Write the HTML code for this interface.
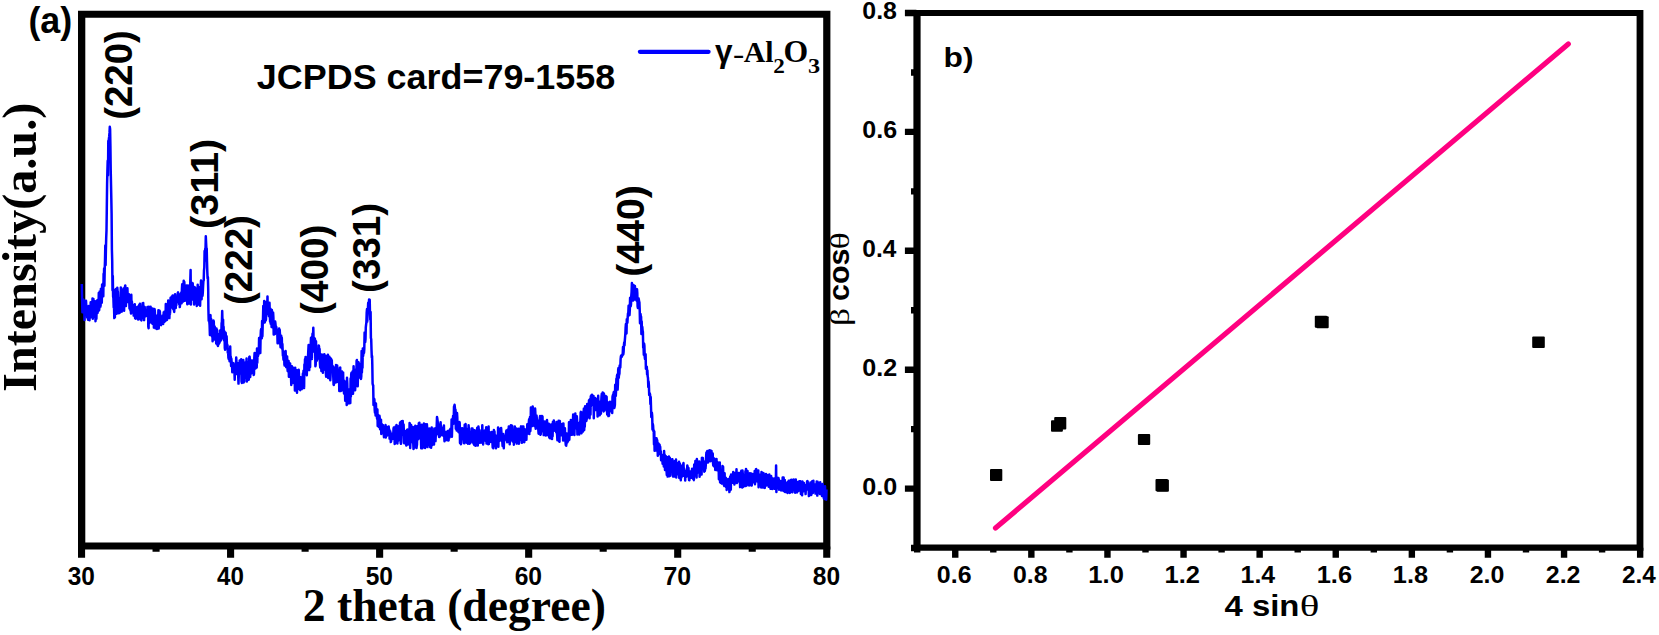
<!DOCTYPE html>
<html><head><meta charset="utf-8"><title>XRD and Williamson-Hall plot</title>
<style>html,body{margin:0;padding:0;background:#fff;}svg{display:block;}</style></head>
<body><svg width="1659" height="635" viewBox="0 0 1659 635">
<rect width="1659" height="635" fill="#fff"/>
<path d="M78.0 10.8H830.4V17.700000000000003H78.0Z M78.0 542.5H830.4V549.6H78.0Z M78.0 10.8H85.3V549.6H78.0Z M823.1999999999999 10.8H830.4V549.6H823.1999999999999Z" fill="#000"/>
<path d="M913.4 10.1H1643.4V16.0H913.4Z M913.4 544.6H1643.4V550.7H913.4Z M913.4 10.1H920.6V550.7H913.4Z M1636.6000000000001 10.1H1643.4V550.7H1636.6000000000001Z" fill="#000"/>
<path d="M81.55 546.60V557.7 M156.07 546.60V551.8 M230.59 546.60V557.7 M305.11 546.60V551.8 M379.63 546.60V557.7 M454.15 546.60V551.8 M528.67 546.60V557.7 M603.19 546.60V551.8 M677.71 546.60V557.7 M752.23 546.60V551.8 M826.75 546.60V557.7" stroke="#000" stroke-width="7.1" fill="none"/>
<path d="M917.20 547.70V552.4 M955.25 547.70V557.8 M993.30 547.70V552.4 M1031.35 547.70V557.8 M1069.40 547.70V552.4 M1107.45 547.70V557.8 M1145.50 547.70V552.4 M1183.55 547.70V557.8 M1221.60 547.70V552.4 M1259.65 547.70V557.8 M1297.70 547.70V552.4 M1335.75 547.70V557.8 M1373.80 547.70V552.4 M1411.85 547.70V557.8 M1449.90 547.70V552.4 M1487.95 547.70V557.8 M1526.00 547.70V552.4 M1564.05 547.70V557.8 M1602.10 547.70V552.4 M1640.15 547.70V557.8 M916.40 548.05H911.0 M916.40 488.60H904.9 M916.40 429.15H911.0 M916.40 369.70H904.9 M916.40 310.25H911.0 M916.40 250.80H904.9 M916.40 191.35H911.0 M916.40 131.90H904.9 M916.40 72.45H911.0 M916.40 13.00H904.9" stroke="#000" stroke-width="6.4" fill="none"/>
<polyline points="81.8,284.0 82.1,299.8 82.4,312.3 82.7,305.4 83.0,306.0 83.3,308.0 83.6,299.8 83.9,308.3 84.2,303.6 84.5,320.0 84.8,311.1 85.1,306.8 85.4,306.7 85.7,303.5 86.0,300.7 86.3,305.7 86.6,313.2 86.9,307.8 87.2,317.4 87.5,307.5 87.8,309.5 88.1,319.7 88.4,314.0 88.7,305.9 89.0,309.4 89.2,314.2 89.5,320.2 89.8,306.9 90.1,307.0 90.4,317.4 90.7,302.2 91.0,307.0 91.3,316.2 91.6,313.6 91.9,310.4 92.2,315.2 92.5,298.5 92.8,318.8 93.1,302.2 93.4,298.9 93.7,312.8 94.0,316.7 94.3,307.3 94.6,301.0 94.9,310.3 95.2,309.5 95.5,321.2 95.8,315.5 96.1,311.0 96.4,318.8 96.7,307.2 97.0,300.4 97.3,312.6 97.6,312.9 97.9,305.5 98.2,299.7 98.5,307.3 98.8,292.9 99.1,310.4 99.4,307.3 99.7,291.5 100.0,302.3 100.3,293.6 100.6,306.4 100.9,288.7 101.2,290.8 101.5,301.1 101.8,302.8 102.1,284.6 102.4,288.6 102.7,292.9 103.0,283.8 103.3,296.2 103.6,273.7 103.9,283.8 104.1,268.5 104.4,285.7 104.7,270.0 105.0,260.9 105.3,245.6 105.6,264.9 105.9,249.7 106.2,237.9 106.5,230.5 106.8,208.6 107.1,184.3 107.4,171.0 107.7,160.7 108.0,175.3 108.3,140.9 108.6,142.0 108.9,138.7 109.2,136.4 109.5,132.9 109.8,126.8 110.1,129.1 110.4,145.5 110.7,169.4 111.0,183.6 111.3,197.9 111.6,213.7 111.9,249.7 112.2,260.5 112.5,290.2 112.8,276.0 113.1,296.5 113.4,298.1 113.7,307.4 114.0,305.0 114.3,318.1 114.6,317.4 114.9,317.3 115.2,289.8 115.5,300.8 115.8,296.9 116.1,308.2 116.4,288.8 116.7,313.7 117.0,312.7 117.3,287.7 117.6,291.1 117.9,292.1 118.2,300.4 118.5,307.4 118.8,313.3 119.0,298.3 119.3,308.2 119.6,301.8 119.9,312.7 120.2,306.7 120.5,312.0 120.8,287.5 121.1,296.8 121.4,290.8 121.7,311.6 122.0,305.2 122.3,294.9 122.6,292.7 122.9,301.3 123.2,290.6 123.5,288.4 123.8,302.0 124.1,310.7 124.4,295.1 124.7,292.6 125.0,286.6 125.3,285.4 125.6,303.5 125.9,306.1 126.2,299.2 126.5,301.7 126.8,300.0 127.1,300.2 127.4,288.2 127.7,296.1 128.0,302.1 128.3,294.4 128.6,296.7 128.9,294.3 129.2,298.7 129.5,308.4 129.8,299.5 130.1,302.6 130.4,310.1 130.7,308.8 131.0,313.5 131.3,294.8 131.6,311.2 131.9,301.5 132.2,305.6 132.5,311.0 132.8,312.6 133.1,312.2 133.4,307.0 133.7,315.6 133.9,304.9 134.2,306.4 134.5,313.0 134.8,304.2 135.1,318.2 135.4,316.2 135.7,318.7 136.0,310.2 136.3,308.0 136.6,312.2 136.9,316.4 137.2,307.0 137.5,312.8 137.8,310.1 138.1,319.4 138.4,306.6 138.7,317.8 139.0,306.2 139.3,304.8 139.6,306.4 139.9,303.8 140.2,313.4 140.5,319.4 140.8,312.9 141.1,316.5 141.4,320.4 141.7,313.9 142.0,313.7 142.3,310.7 142.6,303.3 142.9,317.4 143.2,302.9 143.5,316.3 143.8,312.1 144.1,320.1 144.4,312.1 144.7,307.1 145.0,316.6 145.3,310.8 145.6,314.4 145.9,315.9 146.2,315.2 146.5,315.1 146.8,309.9 147.1,315.7 147.4,307.0 147.7,316.3 148.0,307.6 148.3,326.7 148.6,328.2 148.8,306.7 149.1,318.9 149.4,316.8 149.7,308.9 150.0,322.5 150.3,314.0 150.6,306.8 150.9,315.5 151.2,316.8 151.5,319.3 151.8,308.2 152.1,323.0 152.4,323.6 152.7,308.6 153.0,312.4 153.3,317.3 153.6,313.2 153.9,327.6 154.2,319.0 154.5,308.9 154.8,310.5 155.1,316.4 155.4,328.3 155.7,316.8 156.0,318.9 156.3,322.7 156.6,318.2 156.9,329.0 157.2,315.5 157.5,324.5 157.8,319.6 158.1,323.5 158.4,310.2 158.7,328.4 159.0,317.1 159.3,317.8 159.6,310.7 159.9,311.9 160.2,321.1 160.5,323.5 160.8,321.7 161.1,325.2 161.4,321.8 161.7,316.4 162.0,322.0 162.3,320.6 162.6,315.4 162.9,320.1 163.2,323.9 163.5,316.5 163.7,312.2 164.0,318.5 164.3,322.1 164.6,311.5 164.9,312.2 165.2,312.6 165.5,320.7 165.8,304.0 166.1,314.1 166.4,319.2 166.7,305.6 167.0,320.0 167.3,314.4 167.6,306.2 167.9,310.4 168.2,300.6 168.5,305.2 168.8,317.7 169.1,303.5 169.4,318.1 169.7,307.3 170.0,313.9 170.3,306.8 170.6,297.8 170.9,302.2 171.2,307.1 171.5,298.3 171.8,296.6 172.1,307.5 172.4,300.7 172.7,295.4 173.0,299.6 173.3,309.2 173.6,300.3 173.9,309.4 174.2,311.9 174.5,302.7 174.8,295.3 175.1,294.2 175.4,303.2 175.7,308.1 176.0,303.5 176.3,305.3 176.6,298.0 176.9,302.6 177.2,298.3 177.5,299.2 177.8,293.1 178.1,292.4 178.4,298.1 178.6,293.7 178.9,294.3 179.2,304.2 179.5,298.7 179.8,307.1 180.1,304.2 180.4,294.3 180.7,303.2 181.0,299.9 181.3,292.4 181.6,303.3 181.9,289.3 182.2,284.2 182.5,298.7 182.8,287.4 183.1,301.4 183.4,286.5 183.7,280.7 184.0,300.2 184.3,281.9 184.6,291.6 184.9,300.7 185.2,291.5 185.5,290.4 185.8,291.8 186.1,298.4 186.4,285.6 186.7,297.5 187.0,297.7 187.3,304.2 187.6,290.2 187.9,285.4 188.2,298.9 188.5,289.0 188.8,294.8 189.1,293.4 189.4,303.5 189.7,287.7 190.0,292.5 190.3,280.9 190.6,270.0 190.9,304.4 191.2,287.5 191.5,287.1 191.8,282.8 192.1,299.3 192.4,295.7 192.7,283.3 193.0,299.1 193.3,295.3 193.5,300.0 193.8,286.7 194.1,304.4 194.4,295.5 194.7,290.4 195.0,287.5 195.3,290.0 195.6,300.5 195.9,290.7 196.2,303.3 196.5,299.3 196.8,305.9 197.1,302.2 197.4,295.2 197.7,284.7 198.0,300.5 198.3,304.6 198.6,299.4 198.9,303.0 199.2,292.1 199.5,292.5 199.8,287.0 200.1,305.7 200.4,294.7 200.7,288.4 201.0,280.5 201.3,289.0 201.6,299.2 201.9,292.1 202.2,282.8 202.5,295.9 202.8,292.6 203.1,285.9 203.4,280.9 203.7,280.5 204.0,270.7 204.3,267.6 204.6,251.1 204.9,260.4 205.2,248.7 205.5,250.2 205.8,236.2 206.1,242.7 206.4,248.7 206.7,248.4 207.0,261.2 207.3,271.6 207.6,278.5 207.9,277.0 208.2,288.9 208.4,309.2 208.7,320.8 209.0,316.2 209.3,321.5 209.6,325.1 209.9,334.9 210.2,315.4 210.5,315.1 210.8,330.6 211.1,318.9 211.4,324.2 211.7,331.4 212.0,336.5 212.3,323.6 212.6,341.3 212.9,322.1 213.2,337.6 213.5,320.5 213.8,321.7 214.1,339.5 214.4,329.4 214.7,326.6 215.0,330.6 215.3,338.7 215.6,334.6 215.9,334.7 216.2,343.4 216.5,328.6 216.8,330.8 217.1,330.0 217.4,344.6 217.7,343.5 218.0,346.0 218.3,335.7 218.6,334.6 218.9,343.6 219.2,333.9 219.5,342.6 219.8,341.4 220.1,330.4 220.4,333.5 220.7,331.8 221.0,340.5 221.3,336.8 221.6,323.1 221.9,322.4 222.2,311.0 222.5,322.4 222.8,323.1 223.1,319.7 223.3,338.4 223.6,326.7 223.9,337.5 224.2,340.7 224.5,331.5 224.8,348.1 225.1,349.7 225.4,332.5 225.7,332.9 226.0,348.0 226.3,343.6 226.6,336.2 226.9,343.5 227.2,344.9 227.5,345.1 227.8,352.8 228.1,350.9 228.4,357.7 228.7,358.8 229.0,355.3 229.3,358.9 229.6,361.3 229.9,358.8 230.2,346.5 230.5,360.8 230.8,356.8 231.1,366.0 231.4,358.8 231.7,363.8 232.0,363.9 232.3,372.3 232.6,365.4 232.9,363.0 233.2,368.3 233.5,363.2 233.8,368.9 234.1,367.6 234.4,370.1 234.7,379.7 235.0,364.7 235.3,368.6 235.6,366.2 235.9,373.2 236.2,357.4 236.5,362.2 236.8,368.3 237.1,374.1 237.4,368.8 237.7,366.4 238.0,363.2 238.2,375.8 238.5,383.6 238.8,374.9 239.1,372.5 239.4,373.7 239.7,360.6 240.0,366.8 240.3,367.6 240.6,372.7 240.9,370.2 241.2,359.2 241.5,381.2 241.8,382.9 242.1,369.2 242.4,375.4 242.7,374.0 243.0,379.1 243.3,360.1 243.6,382.6 243.9,366.9 244.2,381.6 244.5,371.0 244.8,366.8 245.1,368.8 245.4,377.7 245.7,362.3 246.0,366.2 246.3,364.9 246.6,358.4 246.9,381.4 247.2,375.1 247.5,370.1 247.8,379.6 248.1,362.1 248.4,368.7 248.7,379.8 249.0,376.3 249.3,357.0 249.6,356.7 249.9,359.7 250.2,376.9 250.5,364.8 250.8,366.8 251.1,373.5 251.4,360.5 251.7,369.1 252.0,372.8 252.3,369.3 252.6,368.1 252.9,360.4 253.1,368.8 253.4,362.0 253.7,374.9 254.0,373.9 254.3,357.8 254.6,353.1 254.9,359.5 255.2,364.6 255.5,368.6 255.8,367.9 256.1,354.2 256.4,353.1 256.7,367.4 257.0,348.5 257.3,362.8 257.6,351.0 257.9,356.3 258.2,354.9 258.5,354.1 258.8,353.6 259.1,338.1 259.4,348.9 259.7,345.6 260.0,346.7 260.3,353.0 260.6,336.5 260.9,330.6 261.2,329.0 261.5,330.7 261.8,338.2 262.1,321.1 262.4,336.2 262.7,324.7 263.0,318.0 263.3,305.9 263.6,317.7 263.9,319.5 264.2,301.1 264.5,322.6 264.8,322.3 265.1,313.7 265.4,314.0 265.7,320.4 266.0,319.1 266.3,301.7 266.6,308.4 266.9,306.7 267.2,306.6 267.5,296.4 267.8,314.1 268.0,303.6 268.3,310.1 268.6,307.1 268.9,316.1 269.2,307.1 269.5,302.7 269.8,313.9 270.1,321.8 270.4,308.8 270.7,323.7 271.0,315.3 271.3,310.6 271.6,326.9 271.9,310.1 272.2,327.3 272.5,315.9 272.8,325.2 273.1,312.6 273.4,317.5 273.7,334.6 274.0,329.3 274.3,328.7 274.6,325.8 274.9,333.9 275.2,321.6 275.5,324.1 275.8,331.1 276.1,326.6 276.4,327.6 276.7,332.1 277.0,332.6 277.3,332.4 277.6,343.2 277.9,341.3 278.2,343.2 278.5,335.8 278.8,333.2 279.1,328.5 279.4,335.1 279.7,329.7 280.0,334.8 280.3,343.8 280.6,347.3 280.9,345.7 281.2,335.8 281.5,344.3 281.8,337.7 282.1,348.7 282.4,344.1 282.7,351.1 282.9,355.7 283.2,355.1 283.5,359.6 283.8,353.8 284.1,351.9 284.4,364.4 284.7,365.6 285.0,354.3 285.3,359.4 285.6,351.0 285.9,359.2 286.2,367.1 286.5,362.5 286.8,360.2 287.1,356.4 287.4,367.7 287.7,371.2 288.0,370.9 288.3,369.8 288.6,361.0 288.9,376.7 289.2,369.2 289.5,369.5 289.8,375.7 290.1,363.4 290.4,372.5 290.7,372.4 291.0,377.0 291.3,385.0 291.6,379.9 291.9,366.3 292.2,374.5 292.5,379.3 292.8,379.3 293.1,368.0 293.4,367.9 293.7,383.0 294.0,381.1 294.3,378.7 294.6,368.5 294.9,390.5 295.2,367.8 295.5,376.3 295.8,390.5 296.1,378.2 296.4,382.3 296.7,370.6 297.0,392.7 297.3,370.6 297.6,383.6 297.8,382.4 298.1,371.5 298.4,389.1 298.7,369.7 299.0,375.5 299.3,381.9 299.6,378.2 299.9,385.9 300.2,390.2 300.5,379.6 300.8,377.3 301.1,378.1 301.4,379.1 301.7,389.1 302.0,378.8 302.3,383.9 302.6,380.2 302.9,373.6 303.2,388.0 303.5,370.7 303.8,378.6 304.1,387.9 304.4,364.4 304.7,371.3 305.0,359.2 305.3,364.7 305.6,356.9 305.9,363.4 306.2,360.6 306.5,365.3 306.8,375.2 307.1,365.0 307.4,367.0 307.7,359.1 308.0,356.8 308.3,350.8 308.6,345.1 308.9,358.1 309.2,370.1 309.5,360.5 309.8,350.5 310.1,367.1 310.4,347.7 310.7,344.7 311.0,337.8 311.3,339.3 311.6,345.7 311.9,358.9 312.2,342.8 312.5,333.7 312.7,335.2 313.0,337.0 313.3,327.7 313.6,340.2 313.9,347.6 314.2,346.9 314.5,351.9 314.8,338.5 315.1,340.5 315.4,366.3 315.7,364.7 316.0,341.3 316.3,356.9 316.6,355.5 316.9,360.7 317.2,357.4 317.5,350.9 317.8,357.9 318.1,358.5 318.4,357.1 318.7,345.4 319.0,346.4 319.3,352.9 319.6,349.0 319.9,363.0 320.2,367.5 320.5,363.8 320.8,358.5 321.1,362.1 321.4,371.0 321.7,354.6 322.0,368.6 322.3,367.3 322.6,364.2 322.9,372.8 323.2,356.3 323.5,370.0 323.8,354.4 324.1,356.1 324.4,354.3 324.7,366.8 325.0,356.3 325.3,364.9 325.6,355.7 325.9,373.9 326.2,376.8 326.5,367.4 326.8,376.4 327.1,369.9 327.4,376.6 327.6,366.5 327.9,354.7 328.2,378.0 328.5,366.3 328.8,358.9 329.1,362.4 329.4,356.8 329.7,366.8 330.0,358.1 330.3,380.3 330.6,375.0 330.9,358.4 331.2,359.5 331.5,366.1 331.8,360.3 332.1,371.3 332.4,372.0 332.7,366.1 333.0,368.1 333.3,377.7 333.6,384.7 333.9,384.9 334.2,373.6 334.5,381.4 334.8,367.8 335.1,378.7 335.4,367.1 335.7,382.4 336.0,365.0 336.3,368.0 336.6,376.5 336.9,381.9 337.2,365.6 337.5,373.0 337.8,379.0 338.1,380.1 338.4,370.4 338.7,379.1 339.0,376.3 339.3,390.9 339.6,384.4 339.9,367.7 340.2,367.5 340.5,380.6 340.8,390.9 341.1,382.7 341.4,389.4 341.7,378.5 342.0,371.4 342.3,390.3 342.5,384.8 342.8,389.7 343.1,372.4 343.4,387.1 343.7,380.2 344.0,393.5 344.3,381.9 344.6,381.4 344.9,383.2 345.2,400.8 345.5,389.7 345.8,383.3 346.1,381.6 346.4,382.3 346.7,405.1 347.0,377.7 347.3,383.4 347.6,398.1 347.9,403.4 348.2,389.3 348.5,399.0 348.8,399.4 349.1,399.8 349.4,390.4 349.7,403.2 350.0,392.2 350.3,403.0 350.6,378.4 350.9,396.4 351.2,374.2 351.5,372.8 351.8,390.3 352.1,376.4 352.4,386.9 352.7,371.2 353.0,393.7 353.3,379.1 353.6,366.3 353.9,379.9 354.2,386.9 354.5,370.0 354.8,382.1 355.1,390.3 355.4,385.5 355.7,375.9 356.0,369.4 356.3,380.2 356.6,360.7 356.9,360.0 357.2,366.2 357.4,362.1 357.7,386.3 358.0,374.7 358.3,364.1 358.6,362.3 358.9,377.4 359.2,363.8 359.5,365.8 359.8,370.0 360.1,371.0 360.4,371.5 360.7,370.6 361.0,378.9 361.3,376.0 361.6,350.9 361.9,372.5 362.2,360.4 362.5,367.8 362.8,348.6 363.1,356.0 363.4,353.3 363.7,349.9 364.0,353.0 364.3,348.8 364.6,332.5 364.9,338.0 365.2,342.1 365.5,339.2 365.8,327.4 366.1,324.7 366.4,322.3 366.7,312.6 367.0,309.0 367.3,321.4 367.6,309.7 367.9,309.4 368.2,302.8 368.5,307.8 368.8,304.8 369.1,299.4 369.4,300.8 369.7,299.7 370.0,314.1 370.3,319.7 370.6,311.9 370.9,338.0 371.2,339.0 371.5,349.8 371.8,357.4 372.1,356.0 372.3,364.4 372.6,383.4 372.9,385.0 373.2,385.2 373.5,405.1 373.8,398.8 374.1,398.7 374.4,399.6 374.7,409.9 375.0,412.8 375.3,409.6 375.6,415.5 375.9,403.4 376.2,411.2 376.5,411.8 376.8,415.3 377.1,419.0 377.4,409.6 377.7,426.0 378.0,415.0 378.3,422.3 378.6,426.2 378.9,426.9 379.2,424.0 379.5,415.8 379.8,418.6 380.1,429.2 380.4,420.8 380.7,421.0 381.0,419.6 381.3,433.9 381.6,430.9 381.9,424.2 382.2,428.9 382.5,429.5 382.8,424.9 383.1,429.2 383.4,431.9 383.7,433.6 384.0,437.3 384.3,431.3 384.6,428.7 384.9,433.3 385.2,428.2 385.5,425.1 385.8,437.5 386.1,429.9 386.4,432.7 386.7,435.8 387.0,427.0 387.2,435.5 387.5,434.4 387.8,432.3 388.1,435.0 388.4,429.1 388.7,426.6 389.0,432.4 389.3,429.5 389.6,438.6 389.9,435.5 390.2,431.2 390.5,434.7 390.8,442.1 391.1,441.4 391.4,437.5 391.7,437.1 392.0,433.7 392.3,434.8 392.6,438.9 392.9,434.6 393.2,437.1 393.5,428.8 393.8,427.4 394.1,427.7 394.4,432.9 394.7,444.0 395.0,443.3 395.3,429.1 395.6,426.6 395.9,440.9 396.2,438.0 396.5,425.1 396.8,441.2 397.1,435.1 397.4,443.4 397.7,436.6 398.0,440.9 398.3,436.0 398.6,426.2 398.9,431.2 399.2,428.1 399.5,439.9 399.8,425.9 400.1,422.6 400.4,439.0 400.7,443.0 401.0,443.8 401.3,442.0 401.6,421.2 401.9,426.6 402.1,428.6 402.4,432.7 402.7,420.9 403.0,432.4 403.3,434.8 403.6,424.6 403.9,433.7 404.2,443.2 404.5,434.1 404.8,442.6 405.1,442.5 405.4,437.1 405.7,437.6 406.0,430.9 406.3,445.5 406.6,431.6 406.9,430.1 407.2,441.2 407.5,429.6 407.8,439.7 408.1,444.5 408.4,436.0 408.7,435.8 409.0,443.3 409.3,441.8 409.6,423.1 409.9,423.8 410.2,448.0 410.5,439.9 410.8,425.2 411.1,425.0 411.4,437.3 411.7,428.4 412.0,441.9 412.3,438.6 412.6,441.7 412.9,427.1 413.2,441.9 413.5,448.9 413.8,429.5 414.1,448.0 414.4,444.8 414.7,442.3 415.0,435.1 415.3,425.7 415.6,428.5 415.9,443.3 416.2,446.1 416.5,448.1 416.8,445.7 417.0,444.8 417.3,433.0 417.6,425.9 417.9,437.7 418.2,439.2 418.5,435.8 418.8,423.2 419.1,430.8 419.4,422.8 419.7,436.2 420.0,426.5 420.3,433.8 420.6,438.6 420.9,437.3 421.2,448.2 421.5,426.9 421.8,424.7 422.1,444.5 422.4,448.2 422.7,447.6 423.0,439.1 423.3,441.3 423.6,437.0 423.9,423.5 424.2,430.9 424.5,441.0 424.8,431.1 425.1,448.1 425.4,424.2 425.7,433.0 426.0,446.3 426.3,432.4 426.6,426.5 426.9,424.3 427.2,429.4 427.5,447.1 427.8,440.1 428.1,441.4 428.4,431.6 428.7,444.5 429.0,437.7 429.3,428.5 429.6,433.4 429.9,438.7 430.2,447.1 430.5,436.7 430.8,441.6 431.1,447.8 431.4,430.9 431.7,427.4 431.9,445.4 432.2,441.2 432.5,436.1 432.8,439.5 433.1,435.0 433.4,442.5 433.7,434.8 434.0,444.5 434.3,428.5 434.6,431.1 434.9,438.2 435.2,431.9 435.5,441.1 435.8,434.4 436.1,427.9 436.4,434.1 436.7,426.3 437.0,417.1 437.3,418.6 437.6,421.0 437.9,423.4 438.2,427.9 438.5,434.8 438.8,432.1 439.1,436.9 439.4,436.9 439.7,424.6 440.0,436.0 440.3,435.1 440.6,422.2 440.9,428.7 441.2,435.0 441.5,429.6 441.8,435.1 442.1,431.0 442.4,433.5 442.7,427.5 443.0,432.7 443.3,428.7 443.6,436.0 443.9,425.4 444.2,435.7 444.5,441.3 444.8,438.1 445.1,435.5 445.4,438.3 445.7,431.9 446.0,432.5 446.3,434.3 446.6,435.3 446.8,440.1 447.1,432.2 447.4,440.3 447.7,430.9 448.0,433.4 448.3,436.1 448.6,440.5 448.9,433.8 449.2,430.6 449.5,437.7 449.8,435.2 450.1,429.7 450.4,428.9 450.7,429.2 451.0,432.5 451.3,435.1 451.6,419.5 451.9,436.8 452.2,425.2 452.5,418.7 452.8,424.2 453.1,415.9 453.4,423.8 453.7,420.4 454.0,406.8 454.3,406.1 454.6,404.8 454.9,407.9 455.2,418.3 455.5,409.7 455.8,428.7 456.1,418.4 456.4,419.9 456.7,430.4 457.0,412.9 457.3,417.6 457.6,430.4 457.9,427.0 458.2,428.5 458.5,432.2 458.8,425.8 459.1,430.0 459.4,422.0 459.7,422.9 460.0,443.0 460.3,427.8 460.6,429.5 460.9,444.2 461.2,443.0 461.5,431.5 461.7,431.3 462.0,434.4 462.3,428.2 462.6,438.8 462.9,436.0 463.2,435.3 463.5,439.7 463.8,439.3 464.1,443.3 464.4,443.3 464.7,424.7 465.0,439.8 465.3,425.8 465.6,424.1 465.9,439.0 466.2,429.0 466.5,432.5 466.8,442.7 467.1,430.7 467.4,429.1 467.7,437.4 468.0,443.7 468.3,438.6 468.6,425.3 468.9,430.4 469.2,433.6 469.5,443.8 469.8,441.3 470.1,440.6 470.4,443.0 470.7,432.5 471.0,438.4 471.3,438.6 471.6,428.5 471.9,435.2 472.2,440.1 472.5,428.6 472.8,441.9 473.1,441.6 473.4,443.5 473.7,430.1 474.0,436.3 474.3,445.0 474.6,441.7 474.9,430.5 475.2,438.0 475.5,445.8 475.8,435.0 476.1,438.0 476.4,445.2 476.6,435.3 476.9,434.8 477.2,427.7 477.5,430.4 477.8,445.4 478.1,434.9 478.4,426.5 478.7,429.0 479.0,436.2 479.3,442.8 479.6,430.3 479.9,442.3 480.2,432.7 480.5,439.5 480.8,441.5 481.1,442.6 481.4,433.1 481.7,435.2 482.0,440.2 482.3,425.3 482.6,437.3 482.9,439.9 483.2,444.4 483.5,436.2 483.8,434.6 484.1,437.6 484.4,430.8 484.7,434.9 485.0,440.4 485.3,440.7 485.6,429.9 485.9,435.5 486.2,427.2 486.5,443.5 486.8,432.7 487.1,438.6 487.4,428.4 487.7,436.5 488.0,440.8 488.3,444.3 488.6,426.6 488.9,444.0 489.2,436.2 489.5,432.0 489.8,441.8 490.1,436.1 490.4,437.0 490.7,434.5 491.0,441.7 491.3,440.4 491.5,438.1 491.8,432.1 492.1,435.2 492.4,441.7 492.7,447.4 493.0,437.1 493.3,448.3 493.6,438.4 493.9,430.0 494.2,443.3 494.5,431.5 494.8,440.9 495.1,445.8 495.4,435.3 495.7,437.3 496.0,448.2 496.3,439.9 496.6,440.1 496.9,443.8 497.2,437.1 497.5,437.0 497.8,439.8 498.1,427.4 498.4,446.8 498.7,428.6 499.0,429.3 499.3,441.2 499.6,438.0 499.9,429.0 500.2,439.8 500.5,430.3 500.8,432.8 501.1,427.9 501.4,432.0 501.7,440.6 502.0,439.0 502.3,441.1 502.6,445.9 502.9,438.6 503.2,433.9 503.5,436.4 503.8,448.3 504.1,438.0 504.4,439.8 504.7,436.6 505.0,438.6 505.3,439.6 505.6,435.8 505.9,435.3 506.2,431.4 506.4,430.4 506.7,439.2 507.0,441.4 507.3,442.2 507.6,435.9 507.9,429.5 508.2,439.7 508.5,439.6 508.8,426.6 509.1,441.4 509.4,439.5 509.7,444.2 510.0,426.5 510.3,426.3 510.6,440.3 510.9,425.3 511.2,429.2 511.5,427.8 511.8,428.2 512.1,425.8 512.4,433.1 512.7,441.4 513.0,438.0 513.3,438.0 513.6,433.0 513.9,444.8 514.2,439.1 514.5,442.4 514.8,426.4 515.1,438.0 515.4,428.7 515.7,438.7 516.0,437.6 516.3,428.6 516.6,437.0 516.9,443.6 517.2,439.4 517.5,440.1 517.8,429.8 518.1,431.4 518.4,428.7 518.7,436.9 519.0,443.7 519.3,438.9 519.6,436.6 519.9,429.2 520.2,439.7 520.5,435.2 520.8,427.3 521.1,426.4 521.3,432.2 521.6,428.0 521.9,442.7 522.2,434.4 522.5,426.4 522.8,429.8 523.1,441.8 523.4,426.5 523.7,438.0 524.0,435.8 524.3,442.3 524.6,436.4 524.9,429.6 525.2,435.5 525.5,431.5 525.8,437.9 526.1,430.3 526.4,439.8 526.7,429.1 527.0,432.2 527.3,424.2 527.6,429.0 527.9,427.7 528.2,428.3 528.5,433.4 528.8,422.5 529.1,419.3 529.4,433.9 529.7,421.0 530.0,417.0 530.3,431.1 530.6,426.8 530.9,407.4 531.2,414.6 531.5,423.8 531.8,422.8 532.1,409.7 532.4,426.0 532.7,406.5 533.0,411.4 533.3,414.4 533.6,412.6 533.9,420.2 534.2,423.0 534.5,413.2 534.8,426.2 535.1,408.6 535.4,414.1 535.7,428.8 536.0,419.0 536.2,426.9 536.5,415.4 536.8,418.4 537.1,421.2 537.4,423.7 537.7,420.5 538.0,424.7 538.3,429.8 538.6,433.7 538.9,425.3 539.2,429.5 539.5,432.0 539.8,418.0 540.1,415.9 540.4,434.7 540.7,434.5 541.0,425.9 541.3,428.6 541.6,419.3 541.9,416.1 542.2,427.8 542.5,416.5 542.8,431.3 543.1,421.3 543.4,427.5 543.7,435.1 544.0,435.1 544.3,424.8 544.6,433.5 544.9,421.5 545.2,423.9 545.5,429.3 545.8,435.4 546.1,424.1 546.4,431.2 546.7,428.7 547.0,420.0 547.3,426.8 547.6,435.0 547.9,427.0 548.2,431.5 548.5,433.9 548.8,423.8 549.1,436.8 549.4,437.6 549.7,438.0 550.0,438.2 550.3,427.3 550.6,426.5 550.9,425.2 551.1,424.4 551.4,425.3 551.7,437.2 552.0,439.1 552.3,426.2 552.6,436.2 552.9,421.9 553.2,427.5 553.5,423.0 553.8,420.5 554.1,430.4 554.4,430.7 554.7,427.5 555.0,427.6 555.3,424.3 555.6,429.7 555.9,426.4 556.2,432.3 556.5,421.9 556.8,432.6 557.1,434.8 557.4,440.2 557.7,438.8 558.0,432.3 558.3,425.9 558.6,420.8 558.9,430.7 559.2,441.3 559.5,441.7 559.8,421.1 560.1,425.7 560.4,429.7 560.7,425.4 561.0,435.3 561.3,434.2 561.6,430.4 561.9,434.2 562.2,424.1 562.5,426.8 562.8,427.0 563.1,440.5 563.4,423.6 563.7,432.7 564.0,440.2 564.3,433.2 564.6,440.2 564.9,428.3 565.2,437.1 565.5,441.6 565.8,445.2 566.0,441.0 566.3,445.7 566.6,433.6 566.9,433.6 567.2,442.6 567.5,436.5 567.8,441.7 568.1,436.2 568.4,440.4 568.7,440.3 569.0,422.3 569.3,439.6 569.6,432.0 569.9,432.8 570.2,428.4 570.5,435.0 570.8,420.0 571.1,421.9 571.4,421.9 571.7,430.6 572.0,434.8 572.3,433.2 572.6,429.8 572.9,421.3 573.2,414.4 573.5,427.9 573.8,425.4 574.1,427.1 574.4,435.0 574.7,423.5 575.0,422.5 575.3,413.6 575.6,428.3 575.9,423.5 576.2,418.8 576.5,426.9 576.8,416.2 577.1,420.4 577.4,434.5 577.7,430.0 578.0,431.5 578.3,429.5 578.6,429.0 578.9,425.5 579.2,434.4 579.5,422.8 579.8,429.6 580.1,422.0 580.4,420.8 580.7,412.4 580.9,411.9 581.2,432.9 581.5,433.3 581.8,417.9 582.1,421.1 582.4,426.6 582.7,413.2 583.0,431.5 583.3,411.8 583.6,413.4 583.9,408.4 584.2,430.0 584.5,418.3 584.8,426.8 585.1,406.3 585.4,417.0 585.7,413.6 586.0,413.2 586.3,420.9 586.6,419.5 586.9,418.5 587.2,403.9 587.5,413.9 587.8,417.2 588.1,411.3 588.4,411.9 588.7,411.6 589.0,400.2 589.3,409.8 589.6,418.2 589.9,399.3 590.2,408.1 590.5,414.6 590.8,396.3 591.1,406.0 591.4,395.2 591.7,400.8 592.0,394.8 592.3,398.8 592.6,402.4 592.9,403.8 593.2,405.0 593.5,396.0 593.8,418.3 594.1,404.7 594.4,398.0 594.7,401.4 595.0,408.9 595.3,398.0 595.6,402.7 595.8,401.6 596.1,409.9 596.4,399.1 596.7,409.3 597.0,408.4 597.3,405.0 597.6,416.4 597.9,405.9 598.2,395.8 598.5,407.3 598.8,405.5 599.1,404.4 599.4,405.9 599.7,415.3 600.0,405.6 600.3,407.0 600.6,401.4 600.9,413.6 601.2,402.6 601.5,396.8 601.8,393.7 602.1,407.8 602.4,409.4 602.7,392.5 603.0,397.7 603.3,408.4 603.6,411.4 603.9,393.6 604.2,400.6 604.5,410.5 604.8,400.0 605.1,400.4 605.4,400.6 605.7,395.9 606.0,405.9 606.3,407.7 606.6,396.7 606.9,407.5 607.2,414.4 607.5,408.6 607.8,414.0 608.1,403.7 608.4,416.1 608.7,402.6 609.0,415.7 609.3,404.8 609.6,402.8 609.9,401.9 610.2,404.6 610.5,403.7 610.7,401.9 611.0,403.9 611.3,410.5 611.6,411.7 611.9,402.6 612.2,412.9 612.5,396.9 612.8,395.9 613.1,394.5 613.4,406.5 613.7,392.3 614.0,391.7 614.3,408.1 614.6,406.7 614.9,404.9 615.2,384.7 615.5,392.4 615.8,395.9 616.1,389.9 616.4,378.7 616.7,383.7 617.0,375.8 617.3,374.6 617.6,389.6 617.9,384.0 618.2,369.5 618.5,368.0 618.8,377.7 619.1,368.4 619.4,374.4 619.7,365.4 620.0,366.6 620.3,367.5 620.6,359.3 620.9,356.4 621.2,355.5 621.5,356.1 621.8,356.7 622.1,355.9 622.4,354.3 622.7,354.9 623.0,347.1 623.3,354.4 623.6,351.9 623.9,345.5 624.2,342.6 624.5,345.3 624.8,340.7 625.1,337.0 625.4,333.0 625.6,328.2 625.9,324.1 626.2,331.7 626.5,333.4 626.8,319.3 627.1,323.0 627.4,322.7 627.7,317.4 628.0,313.3 628.3,313.3 628.6,305.8 628.9,311.3 629.2,307.1 629.5,315.2 629.8,309.9 630.1,297.7 630.4,297.9 630.7,306.2 631.0,304.6 631.3,295.6 631.6,291.8 631.9,283.0 632.2,289.8 632.5,291.2 632.8,287.8 633.1,300.5 633.4,285.0 633.7,291.6 634.0,294.1 634.3,294.5 634.6,299.4 634.9,286.0 635.2,289.2 635.5,293.9 635.8,294.2 636.1,291.1 636.4,289.2 636.7,300.8 637.0,289.2 637.3,293.0 637.6,306.3 637.9,308.0 638.2,306.9 638.5,298.2 638.8,299.3 639.1,301.5 639.4,302.2 639.7,309.7 640.0,323.2 640.3,318.5 640.5,313.9 640.8,316.7 641.1,316.7 641.4,333.9 641.7,321.6 642.0,334.0 642.3,326.9 642.6,330.6 642.9,331.8 643.2,347.7 643.5,344.3 643.8,354.8 644.1,343.6 644.4,345.7 644.7,356.5 645.0,359.1 645.3,357.0 645.6,354.2 645.9,368.6 646.2,367.3 646.5,369.2 646.8,366.8 647.1,374.4 647.4,370.4 647.7,376.5 648.0,378.0 648.3,387.0 648.6,381.6 648.9,385.3 649.2,394.9 649.5,392.9 649.8,393.6 650.1,394.9 650.4,404.0 650.7,397.0 651.0,407.3 651.3,416.9 651.6,415.5 651.9,412.8 652.2,416.0 652.5,429.5 652.8,423.9 653.1,425.8 653.4,431.2 653.7,430.3 654.0,444.5 654.3,431.6 654.6,450.8 654.9,438.1 655.2,443.8 655.4,448.4 655.7,446.8 656.0,450.6 656.3,440.2 656.6,438.3 656.9,446.2 657.2,440.2 657.5,444.9 657.8,455.8 658.1,449.2 658.4,447.0 658.7,443.7 659.0,449.7 659.3,450.8 659.6,444.8 659.9,454.1 660.2,446.8 660.5,454.7 660.8,451.2 661.1,460.2 661.4,459.7 661.7,455.2 662.0,454.7 662.3,457.8 662.6,463.8 662.9,463.0 663.2,458.1 663.5,459.5 663.8,466.4 664.1,451.1 664.4,462.7 664.7,454.7 665.0,469.9 665.3,458.5 665.6,461.9 665.9,456.2 666.2,464.6 666.5,470.3 666.8,474.9 667.1,457.3 667.4,463.3 667.7,476.6 668.0,474.0 668.3,467.1 668.6,470.2 668.9,456.5 669.2,476.2 669.5,468.3 669.8,457.8 670.1,475.7 670.3,462.6 670.6,460.1 670.9,471.4 671.2,470.6 671.5,464.8 671.8,467.6 672.1,459.2 672.4,459.3 672.7,474.5 673.0,476.6 673.3,470.9 673.6,470.3 673.9,465.2 674.2,467.0 674.5,461.3 674.8,476.5 675.1,463.7 675.4,470.2 675.7,467.7 676.0,459.4 676.3,477.4 676.6,466.5 676.9,464.1 677.2,470.5 677.5,463.6 677.8,470.2 678.1,463.6 678.4,474.2 678.7,471.2 679.0,461.7 679.3,477.9 679.6,472.2 679.9,463.6 680.2,473.4 680.5,474.3 680.8,480.3 681.1,465.4 681.4,477.4 681.7,471.1 682.0,475.9 682.3,469.9 682.6,471.9 682.9,476.0 683.2,464.6 683.5,463.1 683.8,472.0 684.1,468.6 684.4,471.9 684.7,476.2 685.0,470.7 685.2,480.4 685.5,472.0 685.8,472.5 686.1,476.9 686.4,475.2 686.7,470.4 687.0,471.7 687.3,465.5 687.6,466.6 687.9,471.9 688.2,476.5 688.5,468.1 688.8,476.8 689.1,480.1 689.4,480.2 689.7,471.2 690.0,478.0 690.3,474.9 690.6,476.5 690.9,477.8 691.2,475.4 691.5,477.2 691.8,472.6 692.1,468.7 692.4,472.4 692.7,473.8 693.0,478.7 693.3,473.2 693.6,476.4 693.9,480.2 694.2,464.6 694.5,468.3 694.8,473.5 695.1,469.3 695.4,460.9 695.7,475.6 696.0,468.4 696.3,461.2 696.6,477.5 696.9,459.1 697.2,468.7 697.5,464.0 697.8,469.6 698.1,472.4 698.4,461.8 698.7,467.3 699.0,467.5 699.3,461.5 699.6,476.8 699.9,469.5 700.1,466.4 700.4,463.7 700.7,465.4 701.0,467.7 701.3,463.4 701.6,474.5 701.9,457.9 702.2,457.7 702.5,464.8 702.8,458.0 703.1,466.3 703.4,461.1 703.7,468.9 704.0,467.0 704.3,471.7 704.6,469.2 704.9,471.0 705.2,465.8 705.5,468.6 705.8,464.6 706.1,457.3 706.4,452.5 706.7,452.4 707.0,462.5 707.3,451.1 707.6,459.6 707.9,454.0 708.2,462.4 708.5,459.4 708.8,453.9 709.1,457.9 709.4,450.3 709.7,459.2 710.0,460.5 710.3,450.6 710.6,461.2 710.9,456.4 711.2,458.0 711.5,450.9 711.8,460.3 712.1,460.1 712.4,457.6 712.7,453.6 713.0,462.6 713.3,465.6 713.6,461.8 713.9,466.2 714.2,458.5 714.5,462.6 714.8,464.3 715.0,463.2 715.3,470.0 715.6,465.7 715.9,460.7 716.2,469.3 716.5,458.9 716.8,467.6 717.1,470.3 717.4,463.3 717.7,465.4 718.0,462.6 718.3,470.0 718.6,465.2 718.9,479.3 719.2,476.0 719.5,470.4 719.8,462.5 720.1,482.2 720.4,482.6 720.7,477.7 721.0,476.5 721.3,475.9 721.6,472.0 721.9,483.6 722.2,476.9 722.5,466.0 722.8,471.8 723.1,466.7 723.4,481.5 723.7,482.3 724.0,485.5 724.3,485.9 724.6,473.3 724.9,482.1 725.2,485.9 725.5,484.9 725.8,477.7 726.1,486.9 726.4,484.9 726.7,490.0 727.0,482.9 727.3,481.8 727.6,480.5 727.9,481.4 728.2,479.0 728.5,481.5 728.8,486.9 729.1,486.5 729.4,492.1 729.7,490.4 729.9,488.2 730.2,476.6 730.5,486.6 730.8,489.8 731.1,474.6 731.4,476.3 731.7,476.3 732.0,475.3 732.3,479.4 732.6,474.9 732.9,482.8 733.2,472.0 733.5,478.4 733.8,475.7 734.1,472.8 734.4,484.5 734.7,478.0 735.0,480.8 735.3,475.7 735.6,482.3 735.9,482.5 736.2,477.0 736.5,469.3 736.8,483.0 737.1,482.7 737.4,478.6 737.7,479.3 738.0,479.1 738.3,480.5 738.6,472.9 738.9,478.5 739.2,481.3 739.5,476.1 739.8,473.1 740.1,487.1 740.4,483.0 740.7,477.1 741.0,476.1 741.3,470.8 741.6,471.2 741.9,478.1 742.2,487.4 742.5,470.6 742.8,474.4 743.1,487.0 743.4,482.7 743.7,481.2 744.0,486.2 744.3,477.5 744.6,477.0 744.8,483.3 745.1,483.8 745.4,471.2 745.7,485.9 746.0,468.9 746.3,472.8 746.6,485.5 746.9,473.3 747.2,482.0 747.5,470.9 747.8,475.9 748.1,474.1 748.4,475.0 748.7,481.9 749.0,485.5 749.3,482.9 749.6,485.1 749.9,473.2 750.2,484.8 750.5,480.1 750.8,484.7 751.1,473.6 751.4,475.3 751.7,485.6 752.0,481.7 752.3,478.6 752.6,474.0 752.9,478.0 753.2,481.5 753.5,482.1 753.8,474.6 754.1,475.9 754.4,481.2 754.7,471.0 755.0,484.3 755.3,477.8 755.6,476.3 755.9,469.2 756.2,469.1 756.5,471.5 756.8,474.7 757.1,472.1 757.4,481.4 757.7,480.0 758.0,477.0 758.3,470.4 758.6,487.3 758.9,477.2 759.2,482.2 759.5,474.5 759.7,478.5 760.0,482.9 760.3,480.5 760.6,484.9 760.9,478.5 761.2,487.4 761.5,472.1 761.8,476.6 762.1,486.1 762.4,478.9 762.7,478.0 763.0,473.1 763.3,487.6 763.6,473.2 763.9,483.6 764.2,481.5 764.5,485.4 764.8,487.9 765.1,476.9 765.4,476.6 765.7,479.2 766.0,474.0 766.3,485.5 766.6,479.0 766.9,481.7 767.2,475.1 767.5,480.7 767.8,477.6 768.1,480.8 768.4,475.4 768.7,486.8 769.0,478.0 769.3,474.6 769.6,484.7 769.9,479.8 770.2,477.2 770.5,488.7 770.8,481.6 771.1,475.9 771.4,479.2 771.7,484.3 772.0,481.5 772.3,489.0 772.6,487.8 772.9,478.4 773.2,483.6 773.5,486.8 773.8,481.5 774.1,481.4 774.4,488.8 774.6,486.5 774.9,478.2 775.2,481.5 775.5,482.1 775.8,484.3 776.1,465.5 776.4,491.9 776.7,480.3 777.0,479.3 777.3,485.8 777.6,477.9 777.9,479.2 778.2,487.6 778.5,478.1 778.8,480.0 779.1,489.7 779.4,486.3 779.7,484.4 780.0,485.4 780.3,481.0 780.6,485.3 780.9,482.0 781.2,490.4 781.5,486.2 781.8,481.8 782.1,483.1 782.4,483.7 782.7,477.4 783.0,480.0 783.3,490.7 783.6,477.6 783.9,481.2 784.2,489.3 784.5,491.6 784.8,480.1 785.1,491.9 785.4,483.8 785.7,492.0 786.0,487.9 786.3,484.5 786.6,490.0 786.9,489.2 787.2,482.6 787.5,493.0 787.8,485.0 788.1,492.1 788.4,484.7 788.7,480.7 789.0,481.3 789.3,486.1 789.5,490.0 789.8,492.9 790.1,486.7 790.4,484.9 790.7,480.1 791.0,485.7 791.3,487.5 791.6,479.7 791.9,491.8 792.2,491.2 792.5,492.3 792.8,481.1 793.1,486.1 793.4,486.1 793.7,479.6 794.0,481.5 794.3,480.9 794.6,488.3 794.9,488.2 795.2,492.7 795.5,484.3 795.8,479.5 796.1,488.2 796.4,488.2 796.7,489.5 797.0,492.4 797.3,483.7 797.6,490.7 797.9,482.0 798.2,488.4 798.5,491.0 798.8,487.2 799.1,488.6 799.4,481.3 799.7,484.1 800.0,488.0 800.3,481.3 800.6,482.9 800.9,494.0 801.2,488.7 801.5,483.4 801.8,482.7 802.1,495.3 802.4,481.5 802.7,486.4 803.0,491.8 803.3,486.0 803.6,491.3 803.9,483.0 804.2,488.3 804.4,488.5 804.7,488.3 805.0,489.1 805.3,488.8 805.6,494.1 805.9,486.6 806.2,485.0 806.5,486.4 806.8,485.9 807.1,481.2 807.4,481.0 807.7,481.7 808.0,489.7 808.3,484.6 808.6,486.2 808.9,496.1 809.2,493.8 809.5,486.5 809.8,484.3 810.1,494.9 810.4,482.6 810.7,493.8 811.0,490.3 811.3,495.0 811.6,484.0 811.9,493.0 812.2,481.2 812.5,486.7 812.8,493.1 813.1,491.1 813.4,480.7 813.7,490.6 814.0,489.8 814.3,487.5 814.6,484.3 814.9,486.8 815.2,485.1 815.5,493.6 815.8,490.7 816.1,493.6 816.4,491.7 816.7,481.5 817.0,488.6 817.3,495.6 817.6,481.7 817.9,489.4 818.2,483.0 818.5,483.1 818.8,488.8 819.1,492.8 819.3,492.2 819.6,490.9 819.9,494.1 820.2,482.3 820.5,493.8 820.8,492.1 821.1,489.1 821.4,489.9 821.7,485.5 822.0,495.9 822.3,486.6 822.6,484.0 822.9,490.4 823.2,487.6 823.5,490.4 823.8,498.3 824.1,490.5 824.4,492.0 824.7,498.9 825.0,486.2 825.3,494.0 825.6,498.2 825.9,499.4 826.2,499.7 826.5,489.4" fill="none" stroke="#0000ff" stroke-width="2.5" stroke-linejoin="round"/>
<path d="M639.9 51.8H708.6" stroke="#0000ff" stroke-width="4.2" stroke-linecap="round"/>
<path d="M995.5 528.0L1568.3 43.9" stroke="#ff0080" stroke-width="5.2" stroke-linecap="round"/>
<g fill="#000"><rect x="990.0" y="469.0" width="12.3" height="12.0" rx="1"/><rect x="1051.0" y="420.2" width="11.9" height="11.5" rx="1"/><rect x="1054.2" y="417.1" width="12.1" height="12.4" rx="1"/><rect x="1137.9" y="433.9" width="12.3" height="11.0" rx="1"/><rect x="1155.5" y="479.1" width="12.3" height="12.1" rx="1"/><rect x="1156.6" y="479.6" width="12.3" height="12.1" rx="1"/><rect x="1314.8" y="315.7" width="12.4" height="12.1" rx="1"/><rect x="1316.4" y="316.2" width="12.3" height="12.1" rx="1"/><rect x="1532.2" y="336.5" width="12.6" height="11.5" rx="1"/></g>
<text x="28.41" y="33.22" font-family='"Liberation Sans", Arial, sans-serif' font-weight="bold" font-size="36.58" textLength="43.87" lengthAdjust="spacingAndGlyphs" fill="#000">(a)</text>
<text x="256.86" y="88.65" font-family='"Liberation Sans", Arial, sans-serif' font-weight="bold" font-size="34.97" textLength="358.36" lengthAdjust="spacingAndGlyphs" fill="#000">JCPDS card=79-1558</text>
<text x="302.78" y="620.55" font-family='"Liberation Serif", "Times New Roman", serif' font-weight="bold" font-size="46.15" textLength="303.10" lengthAdjust="spacingAndGlyphs" fill="#000">2 theta (degree)</text>
<text transform="translate(36.27,391.68) rotate(-90)" font-family='"Liberation Serif", "Times New Roman", serif' font-weight="bold" font-size="48.22" textLength="288.88" lengthAdjust="spacingAndGlyphs" fill="#000">Intensity(a.u.)</text>
<text x="67.79" y="584.65" font-family='"Liberation Sans", Arial, sans-serif' font-weight="bold" font-size="25.21" textLength="27.14" lengthAdjust="spacingAndGlyphs" fill="#000">30</text>
<text x="217.08" y="584.65" font-family='"Liberation Sans", Arial, sans-serif' font-weight="bold" font-size="25.21" textLength="26.89" lengthAdjust="spacingAndGlyphs" fill="#000">40</text>
<text x="365.74" y="584.65" font-family='"Liberation Sans", Arial, sans-serif' font-weight="bold" font-size="25.21" textLength="27.27" lengthAdjust="spacingAndGlyphs" fill="#000">50</text>
<text x="514.66" y="584.65" font-family='"Liberation Sans", Arial, sans-serif' font-weight="bold" font-size="25.21" textLength="27.41" lengthAdjust="spacingAndGlyphs" fill="#000">60</text>
<text x="663.44" y="584.65" font-family='"Liberation Sans", Arial, sans-serif' font-weight="bold" font-size="25.21" textLength="27.67" lengthAdjust="spacingAndGlyphs" fill="#000">70</text>
<text x="812.86" y="584.65" font-family='"Liberation Sans", Arial, sans-serif' font-weight="bold" font-size="25.21" textLength="27.27" lengthAdjust="spacingAndGlyphs" fill="#000">80</text>
<text transform="translate(132.20,119.82) rotate(-90)" font-family='"Liberation Sans", Arial, sans-serif' font-weight="bold" font-size="39.04" textLength="89.62" lengthAdjust="spacingAndGlyphs" fill="#000">(220)</text>
<text transform="translate(218.26,228.98) rotate(-90)" font-family='"Liberation Sans", Arial, sans-serif' font-weight="bold" font-size="39.25" textLength="90.23" lengthAdjust="spacingAndGlyphs" fill="#000">(311)</text>
<text transform="translate(252.18,305.03) rotate(-90)" font-family='"Liberation Sans", Arial, sans-serif' font-weight="bold" font-size="39.14" textLength="89.93" lengthAdjust="spacingAndGlyphs" fill="#000">(222)</text>
<text transform="translate(327.76,314.94) rotate(-90)" font-family='"Liberation Sans", Arial, sans-serif' font-weight="bold" font-size="39.25" textLength="90.46" lengthAdjust="spacingAndGlyphs" fill="#000">(400)</text>
<text transform="translate(380.46,292.93) rotate(-90)" font-family='"Liberation Sans", Arial, sans-serif' font-weight="bold" font-size="39.25" textLength="90.14" lengthAdjust="spacingAndGlyphs" fill="#000">(331)</text>
<text transform="translate(644.46,276.87) rotate(-90)" font-family='"Liberation Sans", Arial, sans-serif' font-weight="bold" font-size="39.25" textLength="91.81" lengthAdjust="spacingAndGlyphs" fill="#000">(440)</text>
<text x="715.14" y="62.03" font-family='"Liberation Sans", Arial, sans-serif' font-weight="bold" font-size="31.29" textLength="17.55" lengthAdjust="spacingAndGlyphs" fill="#000">γ</text>
<text x="732.92" y="62.64" font-family='"Liberation Serif", "Times New Roman", serif' font-weight="bold" font-size="27.06" textLength="11.27" lengthAdjust="spacingAndGlyphs" fill="#000">-</text>
<text x="743.70" y="62.30" font-family='"Liberation Serif", "Times New Roman", serif' font-weight="bold" font-size="29.86" textLength="29.85" lengthAdjust="spacingAndGlyphs" fill="#000">Al</text>
<text x="773.27" y="72.50" font-family='"Liberation Serif", "Times New Roman", serif' font-weight="bold" font-size="21.97" textLength="11.57" lengthAdjust="spacingAndGlyphs" fill="#000">2</text>
<text x="783.61" y="62.49" font-family='"Liberation Serif", "Times New Roman", serif' font-weight="bold" font-size="31.49" textLength="24.71" lengthAdjust="spacingAndGlyphs" fill="#000">O</text>
<text x="807.93" y="72.68" font-family='"Liberation Serif", "Times New Roman", serif' font-weight="bold" font-size="21.64" textLength="12.12" lengthAdjust="spacingAndGlyphs" fill="#000">3</text>
<text x="862.30" y="494.67" font-family='"Liberation Sans", Arial, sans-serif' font-weight="bold" font-size="23.38" textLength="34.91" lengthAdjust="spacingAndGlyphs" fill="#000">0.0</text>
<text x="862.30" y="375.77" font-family='"Liberation Sans", Arial, sans-serif' font-weight="bold" font-size="23.38" textLength="34.91" lengthAdjust="spacingAndGlyphs" fill="#000">0.2</text>
<text x="862.32" y="256.87" font-family='"Liberation Sans", Arial, sans-serif' font-weight="bold" font-size="23.38" textLength="34.00" lengthAdjust="spacingAndGlyphs" fill="#000">0.4</text>
<text x="862.30" y="137.97" font-family='"Liberation Sans", Arial, sans-serif' font-weight="bold" font-size="23.38" textLength="34.78" lengthAdjust="spacingAndGlyphs" fill="#000">0.6</text>
<text x="862.30" y="19.07" font-family='"Liberation Sans", Arial, sans-serif' font-weight="bold" font-size="23.38" textLength="34.65" lengthAdjust="spacingAndGlyphs" fill="#000">0.8</text>
<text x="936.85" y="582.66" font-family='"Liberation Sans", Arial, sans-serif' font-weight="bold" font-size="23.66" textLength="34.67" lengthAdjust="spacingAndGlyphs" fill="#000">0.6</text>
<text x="1012.96" y="582.66" font-family='"Liberation Sans", Arial, sans-serif' font-weight="bold" font-size="23.66" textLength="34.54" lengthAdjust="spacingAndGlyphs" fill="#000">0.8</text>
<text x="1088.39" y="582.66" font-family='"Liberation Sans", Arial, sans-serif' font-weight="bold" font-size="23.66" textLength="35.48" lengthAdjust="spacingAndGlyphs" fill="#000">1.0</text>
<text x="1164.49" y="582.90" font-family='"Liberation Sans", Arial, sans-serif' font-weight="bold" font-size="24.00" textLength="35.48" lengthAdjust="spacingAndGlyphs" fill="#000">1.2</text>
<text x="1240.63" y="582.90" font-family='"Liberation Sans", Arial, sans-serif' font-weight="bold" font-size="24.35" textLength="34.54" lengthAdjust="spacingAndGlyphs" fill="#000">1.4</text>
<text x="1316.70" y="582.66" font-family='"Liberation Sans", Arial, sans-serif' font-weight="bold" font-size="23.66" textLength="35.35" lengthAdjust="spacingAndGlyphs" fill="#000">1.6</text>
<text x="1392.80" y="582.66" font-family='"Liberation Sans", Arial, sans-serif' font-weight="bold" font-size="23.66" textLength="35.21" lengthAdjust="spacingAndGlyphs" fill="#000">1.8</text>
<text x="1469.68" y="582.66" font-family='"Liberation Sans", Arial, sans-serif' font-weight="bold" font-size="23.66" textLength="34.67" lengthAdjust="spacingAndGlyphs" fill="#000">2.0</text>
<text x="1545.78" y="582.90" font-family='"Liberation Sans", Arial, sans-serif' font-weight="bold" font-size="24.00" textLength="34.67" lengthAdjust="spacingAndGlyphs" fill="#000">2.2</text>
<text x="1621.90" y="582.90" font-family='"Liberation Sans", Arial, sans-serif' font-weight="bold" font-size="24.00" textLength="33.78" lengthAdjust="spacingAndGlyphs" fill="#000">2.4</text>
<text x="943.53" y="66.70" font-family='"Liberation Sans", Arial, sans-serif' font-weight="bold" font-size="27.17" textLength="30.02" lengthAdjust="spacingAndGlyphs" fill="#000">b)</text>
<text x="1224.51" y="615.80" font-family='"Liberation Sans", Arial, sans-serif' font-weight="bold" font-size="30.20" textLength="74.89" lengthAdjust="spacingAndGlyphs" fill="#000">4 sin</text>
<text x="1299.75" y="615.80" font-family='"Liberation Serif", "Times New Roman", serif' font-weight="normal" font-size="30.00" textLength="19.65" lengthAdjust="spacingAndGlyphs" fill="#000">θ</text>
<text transform="translate(849.18,326.01) rotate(-90)" font-family='"Liberation Serif", "Times New Roman", serif' font-weight="normal" font-size="27.69" textLength="18.06" lengthAdjust="spacingAndGlyphs" fill="#000">β</text>
<text transform="translate(849.00,300.92) rotate(-90)" font-family='"Liberation Sans", Arial, sans-serif' font-weight="bold" font-size="29.64" textLength="52.43" lengthAdjust="spacingAndGlyphs" fill="#000">cos</text>
<text transform="translate(848.83,249.43) rotate(-90)" font-family='"Liberation Serif", "Times New Roman", serif' font-weight="normal" font-size="27.18" textLength="17.32" lengthAdjust="spacingAndGlyphs" fill="#000">θ</text>
</svg></body></html>
